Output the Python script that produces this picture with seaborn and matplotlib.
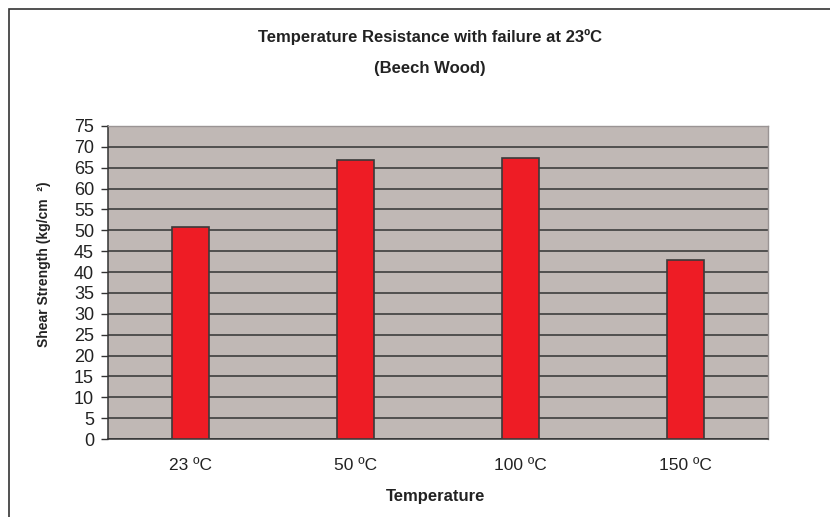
import matplotlib
matplotlib.use("Agg")
import matplotlib.pyplot as plt
import seaborn as sns
import pandas as pd
from matplotlib.patches import Rectangle

categories = ["23 ºC", "50 ºC", "100 ºC", "150 ºC"]
shear_strength = [50.8, 66.9, 67.3, 43.0]
y_ticks = list(range(0, 80, 5))

sns.set_style("white")
plt.rcParams["font.family"] = ["Liberation Sans", "DejaVu Sans"]

df = pd.DataFrame({"Temperature": categories, "Shear": shear_strength})

fig = plt.figure(figsize=(8.30, 5.17), dpi=100)
ax = fig.add_axes([108/830, 1-439/517, 660/830, 313/517])
ax.set_facecolor("#C0B8B5")

sns.barplot(data=df, x="Temperature", y="Shear", color="#EE1C25",
            width=0.225, edgecolor="#3a3a3a", linewidth=1.2, ax=ax,
            saturation=1, zorder=3)

ax.set_ylim(0, 75)
ax.set_xlim(-0.5, 3.5)
ax.set_yticks(y_ticks)
ax.set_yticklabels([str(v) for v in y_ticks], fontsize=13, color="#222222")
ax.yaxis.grid(True, color="#333333", linewidth=1.1, zorder=1)
ax.set_axisbelow(True)

ax.set_xticks(range(len(categories)))
ax.set_xticklabels(categories, fontsize=12.5, color="#222222")
ax.tick_params(axis="x", which="major", length=0, pad=14)
ax.set_xticks([-0.5, 0.5, 1.5, 2.5, 3.5], minor=True)
ax.tick_params(axis="x", which="minor", length=5, width=1, color="#333333", direction="out")
ax.tick_params(axis="y", length=5, width=1, color="#333333", direction="out", left=True, pad=5)

for s in ["left", "bottom"]:
    ax.spines[s].set_color("#333333")
    ax.spines[s].set_linewidth(1.1)
for s in ["top", "right"]:
    ax.spines[s].set_color("#9a9494")
    ax.spines[s].set_linewidth(1.0)

ax.set_xlabel("Temperature", fontsize=12, fontweight="bold", color="#222222")
ax.xaxis.set_label_coords(0.497, -(489-439)/313)
ax.set_ylabel("Shear Strength (kg/cm  ²)", fontsize=10, fontweight="bold", color="#222222")
ax.yaxis.set_label_coords((51-108)/660, (439-264)/313)

fig.text(430/830, 1-37/517, "Temperature Resistance with failure at 23ºC",
         ha="center", va="center", fontsize=12, fontweight="bold", color="#222222")
fig.text(430/830, 1-68/517, "(Beech Wood)",
         ha="center", va="center", fontsize=12, fontweight="bold", color="#222222")

fig.patches.append(Rectangle((9/830, -0.1), 1.2, 1-9/517+0.1, transform=fig.transFigure,
                             fill=False, edgecolor="#333333", linewidth=1.2))

fig.savefig("out.png", dpi=100)
